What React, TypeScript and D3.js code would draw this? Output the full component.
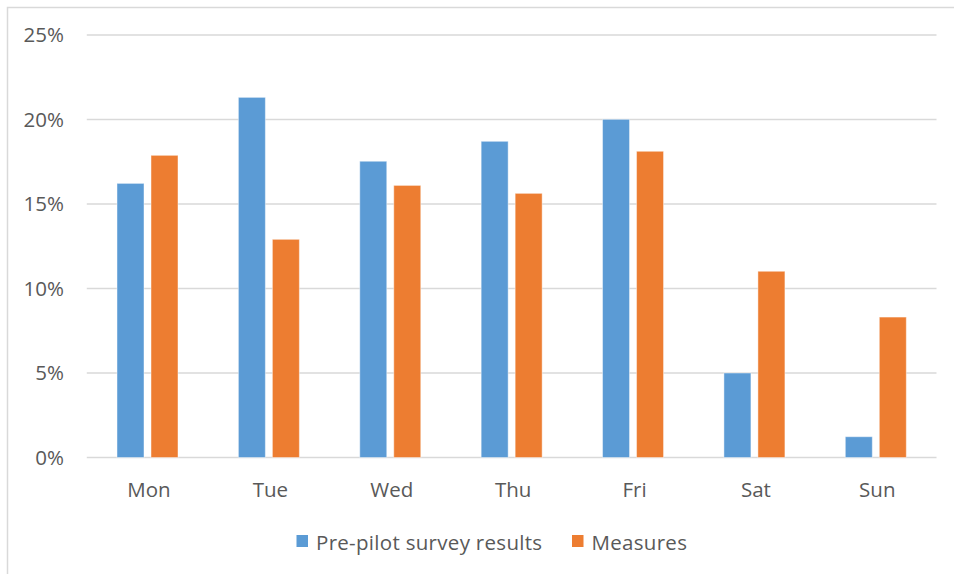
import React from "react";
import * as d3 from "d3";

const days = ["Mon", "Tue", "Wed", "Thu", "Fri", "Sat", "Sun"];
const seriesNames = ["Pre-pilot survey results", "Measures"];
const prePilot = [0.1622, 0.2131, 0.1753, 0.1871, 0.2001, 0.05, 0.0123];
const measures = [0.1788, 0.1291, 0.161, 0.1563, 0.1812, 0.1102, 0.0831];
const yTicks = [0, 0.05, 0.1, 0.15, 0.2, 0.25];
const colors = ["#5B9BD5", "#ED7D31"];

const W = 954;
const H = 574;
const FONT = "'Open Sans', sans-serif";
const FS = 20.5;
const TEXT = "#595959";
const GRID = "#D9D9D9";

export default function App() {
  const plotLeft = 86.8;
  const plotRight = 936.5;
  const x0 = d3.scaleBand<string>().domain(days).range([plotLeft, plotRight]).padding(0);
  const groupW = 61;
  const x1 = d3
    .scaleBand<string>()
    .domain(seriesNames)
    .range([0, groupW])
    .paddingInner(7 / 34)
    .paddingOuter(0);
  const y = d3.scaleLinear().domain([0, 0.25]).range([457.5, 35]);
  const fmt = d3.format(".0%");
  const values = [prePilot, measures];

  return (
    <svg
      width={W}
      height={H}
      style={{ position: "absolute", left: 0, top: 0, display: "block" }}
    >
      <rect x={0} y={0} width={W} height={H} fill="#fff" />
      <rect x={7.5} y={7.5} width={W + 10} height={H + 10} fill="none" stroke={GRID} strokeWidth={1.5} />

      {yTicks.map((t) => (
        <g key={t}>
          <line x1={plotLeft} x2={plotRight} y1={y(t)} y2={y(t)} stroke={GRID} strokeWidth={1.5} />
          <text
            x={64}
            y={y(t)}
            dy="0.35em"
            textAnchor="end"
            fontFamily={FONT}
            fontSize={FS}
            fill={TEXT}
          >
            {fmt(t)}
          </text>
        </g>
      ))}

      {days.map((d, i) => {
        const cx = (x0(d) as number) + x0.bandwidth() / 2;
        return (
          <g key={d}>
            {seriesNames.map((s, k) => {
              const v = values[k][i];
              const bx = cx - groupW / 2 + (x1(s) as number);
              return (
                <rect
                  key={s}
                  x={bx}
                  y={y(v)}
                  width={x1.bandwidth()}
                  height={y(0) - y(v)}
                  fill={colors[k]}
                  stroke="#ffffff"
                  strokeOpacity={0.45}
                  strokeWidth={1}
                />
              );
            })}
            <text
              x={cx + 1.5}
              y={497}
              textAnchor="middle"
              fontFamily={FONT}
              fontSize={FS}
              fill={TEXT}
            >
              {d}
            </text>
          </g>
        );
      })}

      {/* legend */}
      {[
        { name: seriesNames[0], sx: 296.5, color: colors[0] },
        { name: seriesNames[1], sx: 572, color: colors[1] },
      ].map((l) => (
        <g key={l.name}>
          <rect x={l.sx} y={535} width={11.5} height={12} fill={l.color} />
          <text
            x={l.sx + 19.5}
            y={550}
            fontFamily={FONT}
            fontSize={FS}
            letterSpacing={0.3}
            fill={TEXT}
          >
            {l.name}
          </text>
        </g>
      ))}
    </svg>
  );
}
